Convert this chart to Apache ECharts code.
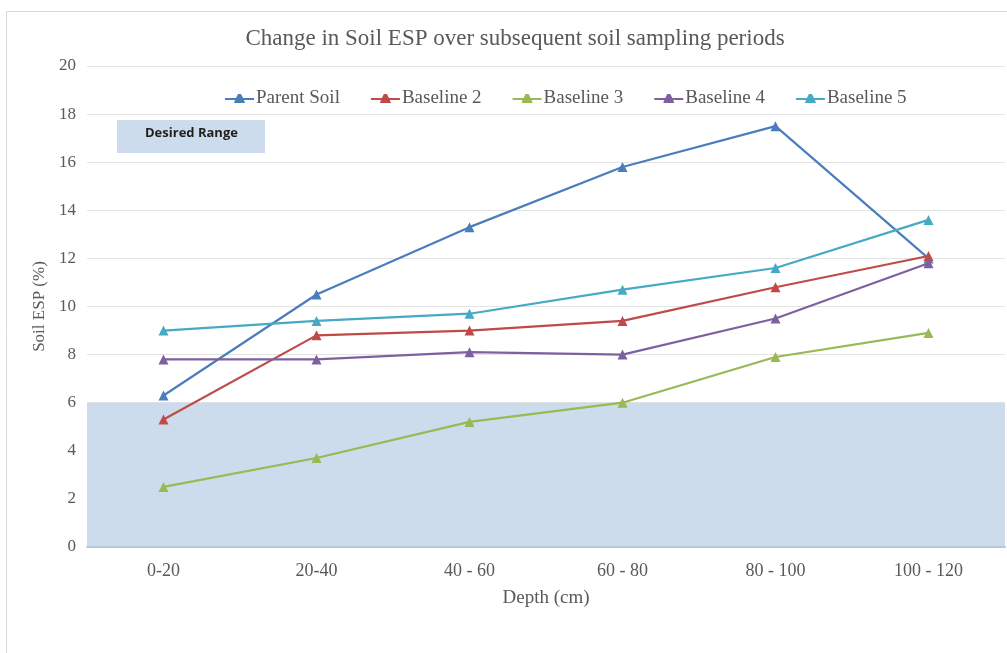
<!DOCTYPE html>
<html><head><meta charset="utf-8">
<script src="https://cdn.jsdelivr.net/npm/echarts@6/dist/echarts.min.js"></script>
<style>html,body{margin:0;padding:0;background:#fff}#c{width:1007px;height:653px}</style>
</head><body><div id="c"></div>
<script>
const categories = ['0-20', '20-40', '40 - 60', '60 - 80', '80 - 100', '100 - 120'];
const parentSoil = [6.3, 10.5, 13.3, 15.8, 17.5, 12.0];
const baseline2 = [5.3, 8.8, 9.0, 9.4, 10.8, 12.1];
const baseline3 = [2.5, 3.7, 5.2, 6.0, 7.9, 8.9];
const baseline4 = [7.8, 7.8, 8.1, 8.0, 9.5, 11.8];
const baseline5 = [9.0, 9.4, 9.7, 10.7, 11.6, 13.6];
const desiredRange = [0, 6];
const seriesNames = ['Parent Soil', 'Baseline 2', 'Baseline 3', 'Baseline 4', 'Baseline 5'];
const colors = ['#4a7ebb', '#be4b48', '#98b954', '#7d60a0', '#46aac5'];

const serif = '"Liberation Serif", "DejaVu Serif", serif';
const dataSets = [parentSoil, baseline2, baseline3, baseline4, baseline5];

const series = dataSets.map((d, i) => ({
  name: seriesNames[i],
  type: 'line',
  data: d,
  symbol: 'triangle',
  symbolSize: 10,
  lineStyle: { width: 2.2, color: colors[i] },
  itemStyle: { color: colors[i] },
  z: 3
}));
series[0].markArea = {
  silent: true,
  itemStyle: { color: '#cddcec' },
  data: [[{ yAxis: desiredRange[0] }, { yAxis: desiredRange[1] }]],
  z: 0
};

const chart = echarts.init(document.getElementById('c'));
chart.setOption({
  animation: false,
  color: colors,
  title: {
    text: 'Change in Soil ESP over subsequent soil sampling periods',
    left: 510, top: 22, textAlign: 'center',
    textStyle: { fontFamily: serif, fontSize: 23, fontWeight: 'normal', color: '#595959' }
  },
  legend: {
    data: seriesNames,
    top: 84, left: 220,
    itemWidth: 29, itemHeight: 10, itemGap: 31,
    icon: 'path://M0,4 L11,4 L13,0 L16,0 L18,4 L29,4 L29,6 L19,6 L20,9 L9,9 L10,6 L0,6 Z',
    textStyle: { fontFamily: serif, fontSize: 19, color: '#595959', padding: [0, 0, 0, -3] }
  },
  grid: { left: 87, right: 2, top: 66, bottom: 106 },
  xAxis: {
    type: 'category', data: categories, boundaryGap: true,
    name: 'Depth (cm)', nameLocation: 'middle', nameGap: 42,
    nameTextStyle: { fontFamily: serif, fontSize: 19, color: '#595959' },
    axisLine: { lineStyle: { color: '#b8c8dc', width: 2 } },
    axisTick: { show: false },
    axisLabel: { fontFamily: serif, fontSize: 18, color: '#595959', margin: 15 }
  },
  yAxis: {
    type: 'value', min: 0, max: 20, interval: 2,
    name: 'Soil ESP (%)', nameLocation: 'middle', nameGap: 36,
    nameTextStyle: { fontFamily: serif, fontSize: 17, color: '#595959' },
    axisLine: { show: false }, axisTick: { show: false },
    axisLabel: { fontFamily: serif, fontSize: 17, color: '#595959', margin: 11 },
    splitLine: { lineStyle: { color: '#e3e3e3', width: 1 } }
  },
  graphic: [
    { type: 'rect', left: 4, top: 9, shape: { width: 1100, height: 700 }, style: { fill: 'none', stroke: '#d9d9d9', lineWidth: 1 }, z: -1 },
    { type: 'rect', left: 117, top: 120, shape: { width: 148, height: 33 }, style: { fill: '#cddcec' }, z: 10 },
    { type: 'text', left: 145, top: 127, style: { text: 'Desired Range', font: 'bold 13px "Open Sans", "Liberation Sans", sans-serif', fill: '#1f1f1f' }, z: 11 }
  ],
  series: series
});
</script></body></html>
